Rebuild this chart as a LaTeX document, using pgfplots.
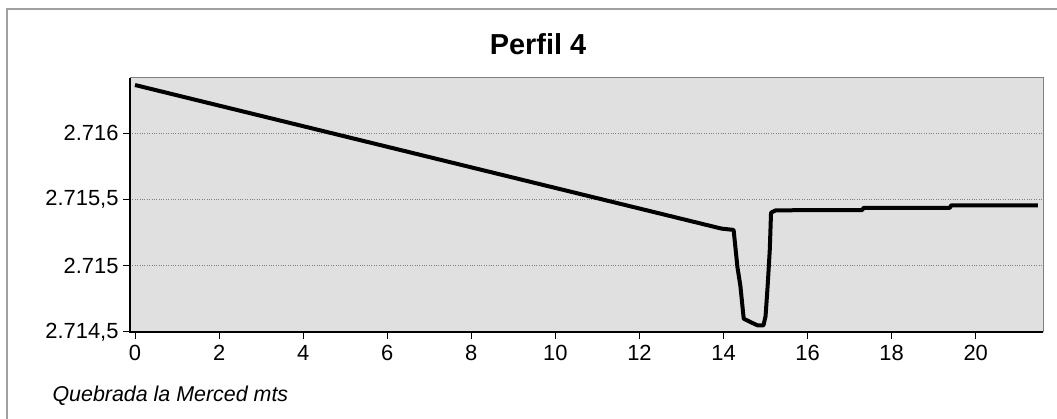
\documentclass[border=0pt]{standalone}
\usepackage{pgfplots}
\pgfplotsset{compat=1.18}
\usepackage{fontspec}
\setmainfont{Liberation Sans}
\definecolor{plotbg}{RGB}{224,224,224}
\definecolor{framegray}{RGB}{160,160,160}
\begin{document}
\begin{tikzpicture}
\useasboundingbox (0,0) rectangle (1057bp,419bp);
\fill[white] (0,0) rectangle (1057bp,419bp);
\draw[framegray, line width=1.5bp] (7bp,0) -- (7bp,410bp) -- (1057bp,410bp);
\begin{axis}[
  at={(130bp,87bp)}, anchor=south west,
  scale only axis, width=913bp, height=254bp,
  xmin=-0.12, xmax=21.6, ymin=2714.5, ymax=2716.416,
  axis background/.style={fill=plotbg},
  axis line style={draw=gray, line width=1bp},
  xtick={0,2,4,6,8,10,12,14,16,18,20},
  ytick={2714.5,2715,2715.5,2716},
  yticklabels={{2.714,5},{2.715},{2.715,5},{2.716}},
  xticklabels={0,2,4,6,8,10,12,14,16,18,20},
  tick label style={font=\fontsize{22}{26}\selectfont, black},
  tick align=outside, xtick pos=bottom, ytick pos=left,
  major tick length=7bp,
  tick style={black, line width=1bp},
  xticklabel style={yshift=-3bp},
  yticklabel style={xshift=-1bp},
  ymajorgrids, grid style={dotted, gray, line width=1bp},
  clip=false,
]
\draw[black, line width=1.2bp] (rel axis cs:0,1) -- (rel axis cs:0,0) -- (rel axis cs:1,0);
\addplot[black, line width=4bp, line join=round] coordinates {
(0,2716.363) (13.95,2715.28) (14.24,2715.27) (14.33,2714.99) (14.40,2714.85)
(14.48,2714.60) (14.64,2714.575) (14.81,2714.55) (14.95,2714.55) (15.0,2714.62)
(15.05,2714.85) (15.10,2715.12) (15.13,2715.40) (15.24,2715.418) (17.30,2715.42)
(17.33,2715.436) (19.38,2715.436) (19.42,2715.456) (21.48,2715.456)
};
\end{axis}
\node[anchor=base, font=\bfseries\fontsize{29}{34}\selectfont] at (538bp,364bp) {Perfil 4};
\node[anchor=base west, font=\itshape\fontsize{21.5}{26}\selectfont] at (49bp,18bp) {Quebrada la Merced mts};
\end{tikzpicture}
\end{document}
